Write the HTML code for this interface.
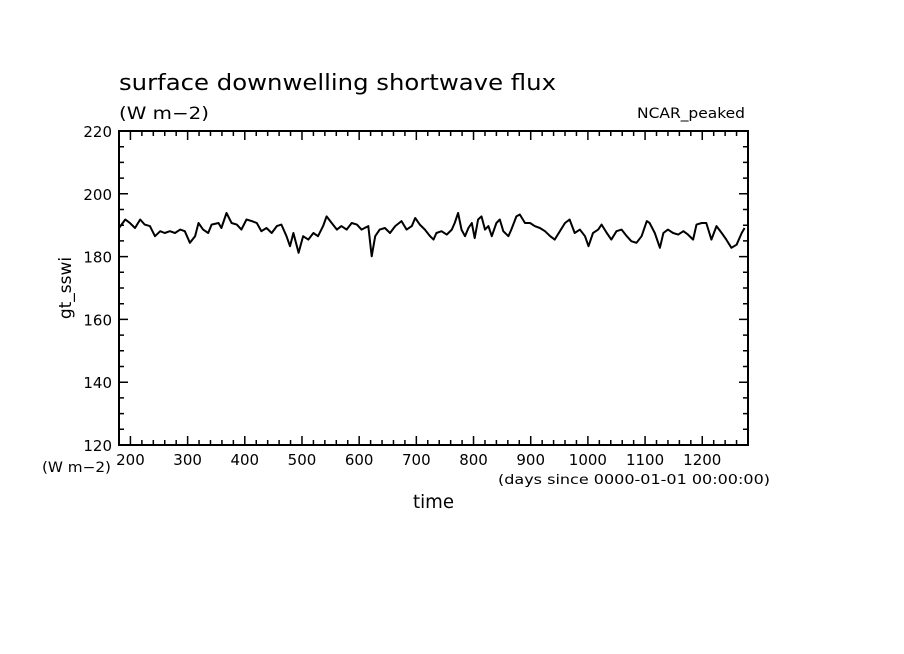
<!DOCTYPE html>
<html><head><meta charset="utf-8"><style>
html,body{margin:0;padding:0;background:#fff;}
svg{display:block;font-family:"DejaVu Sans","Liberation Sans",sans-serif;}
</style></head><body>
<svg id="chart" width="904" height="654" xmlns="http://www.w3.org/2000/svg">
<rect width="904" height="654" fill="#fff"/>
<text x="119" y="90" font-size="22" fill="#000" textLength="437" lengthAdjust="spacingAndGlyphs">surface downwelling shortwave flux</text>
<text x="119" y="119" font-size="17" fill="#000" textLength="90" lengthAdjust="spacingAndGlyphs">(W m−2)</text>
<text x="637" y="118" font-size="14" fill="#000" textLength="108" lengthAdjust="spacingAndGlyphs">NCAR_peaked</text>
<text transform="translate(71,288) rotate(-90)" font-size="17" text-anchor="middle" fill="#000">gt_sswi</text>
<text x="42" y="472" font-size="14" fill="#000" textLength="69" lengthAdjust="spacingAndGlyphs">(W m−2)</text>
<text x="413" y="508" font-size="19" fill="#000" textLength="41" lengthAdjust="spacingAndGlyphs">time</text>
<text x="498" y="484" font-size="13" fill="#000" textLength="272" lengthAdjust="spacingAndGlyphs">(days since 0000-01-01 00:00:00)</text>
<g id="axes"></g>
<g id="series"></g>
</svg>
<script>
const days=[180,191,199,208,217,225,234,243,252,260,269,278,287,295,304,313,319,327,336,342,354,359,368,377,386,394,403,412,421,429,438,447,456,464,473,479,485,494,502,511,520,528,537,543,552,561,569,578,587,596,604,616,622,628,636,645,654,663,674,683,692,698,706,715,724,730,735,744,753,762,767,773,779,785,791,797,802,808,814,820,826,832,840,846,852,861,866,875,881,890,899,907,916,925,934,942,951,960,968,977,986,995,1001,1009,1018,1024,1033,1041,1050,1059,1068,1076,1085,1094,1103,1108,1117,1126,1132,1140,1149,1158,1167,1175,1184,1190,1199,1207,1216,1225,1234,1242,1251,1260,1269,1274];
const flux=[189.1,191.8,190.7,189.1,191.8,190.2,189.7,186.5,188.1,187.5,188.1,187.5,188.6,188.1,184.4,186.5,190.7,188.6,187.5,190.2,190.7,189.1,193.9,190.7,190.2,188.6,191.8,191.3,190.7,188.1,189.1,187.5,189.7,190.2,186.5,183.3,187.5,181.2,186.5,185.4,187.5,186.5,189.7,192.8,190.7,188.6,189.7,188.6,190.7,190.2,188.6,189.7,180.1,186.5,188.6,189.1,187.5,189.7,191.3,188.6,189.7,192.3,190.2,188.6,186.5,185.4,187.5,188.1,187.0,188.6,190.7,193.9,188.6,186.5,189.1,190.7,185.9,191.8,192.8,188.6,189.7,186.5,190.7,191.8,188.1,186.5,188.6,192.8,193.4,190.7,190.7,189.7,189.1,188.1,186.5,185.4,188.1,190.7,191.8,187.5,188.6,186.5,183.3,187.5,188.6,190.2,187.5,185.4,188.1,188.6,186.5,184.9,184.4,186.5,191.3,190.7,187.5,182.8,187.5,188.6,187.5,187.0,188.1,187.0,185.4,190.2,190.7,190.7,185.4,189.7,187.5,185.4,182.8,183.8,187.5,189.1];
const xTicks=[200,300,400,500,600,700,800,900,1000,1100,1200];
const yTicks=[120,140,160,180,200,220];
const X0=119,X1=748,Y0=445,Y1=131,XMIN=180,XMAX=1280,YMIN=120,YMAX=220;
const xs=v=>X0+(v-XMIN)/(XMAX-XMIN)*(X1-X0);
const ys=v=>Y0-(v-YMIN)/(YMAX-YMIN)*(Y0-Y1);
const NS="http://www.w3.org/2000/svg";
const axes=document.getElementById('axes'),ser=document.getElementById('series');
function mk(tag,attrs,parent){const e=document.createElementNS(NS,tag);for(const k in attrs)e.setAttribute(k,attrs[k]);parent.appendChild(e);return e;}
const frame=mk('rect',{x:X0,y:Y1,width:X1-X0,height:Y0-Y1,fill:'none',stroke:'#000','stroke-width':2},axes);


let d='';
for(let v=XMIN;v<=XMAX;v+=20){const x=xs(v),L=(v%100===0)?9:5;d+=`M${x},${Y0}v${-L}M${x},${Y1}v${L}`;}
for(let v=YMIN;v<=YMAX;v+=5){const y=ys(v),L=(v%20===0)?9:5;d+=`M${X0},${y}h${L}M${X1},${y}h${-L}`;}
const tk=mk('path',{d:d,stroke:'#000','stroke-width':1.5,fill:'none'},axes);


xTicks.forEach(v=>{const t=mk('text',{x:xs(v),y:Y0+20,'font-size':15,'text-anchor':'middle',fill:'#000'},axes);t.textContent=v;

});
yTicks.forEach(v=>{const t=mk('text',{x:X0-7,y:ys(v)+6,'font-size':15,'text-anchor':'end',fill:'#000'},axes);t.textContent=v;

});
const pts=days.map((dd,i)=>xs(dd).toFixed(1)+','+ys(flux[i]).toFixed(1)).join(' ');
const line=mk('polyline',{points:pts,fill:'none',stroke:'#000','stroke-width':2,'stroke-linejoin':'round'},ser);


</script>
</body></html>
